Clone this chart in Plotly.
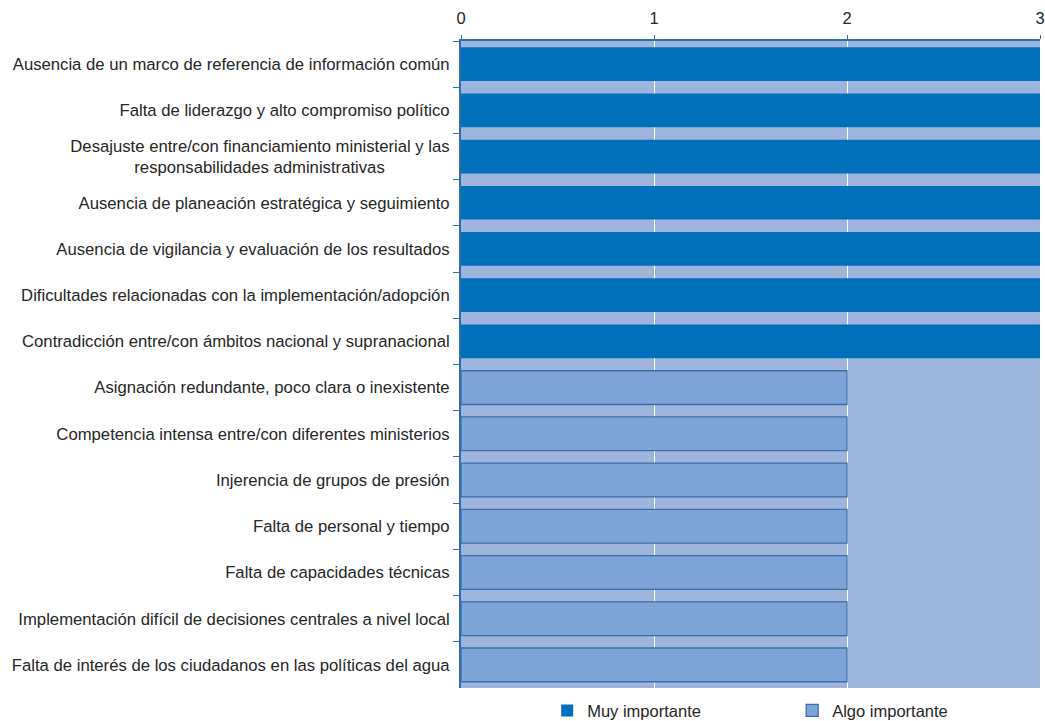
import plotly.graph_objs as go

# Categories (top to bottom)
categorias = [
    "Ausencia de un marco de referencia de información común",
    "Falta de liderazgo y alto compromiso político",
    "Desajuste entre/con financiamiento ministerial y las<br>responsabilidades administrativas              ",
    "Ausencia de planeación estratégica y seguimiento",
    "Ausencia de vigilancia y evaluación de los resultados",
    "Dificultades relacionadas con la implementación/adopción",
    "Contradicción entre/con ámbitos nacional y supranacional",
    "Asignación redundante, poco clara o inexistente",
    "Competencia intensa entre/con diferentes ministerios",
    "Injerencia de grupos de presión",
    "Falta de personal y tiempo",
    "Falta de capacidades técnicas",
    "Implementación difícil de decisiones centrales a nivel local",
    "Falta de interés de los ciudadanos en las políticas del agua",
]
muy_importante = [3, 3, 3, 3, 3, 3, 3, None, None, None, None, None, None, None]
algo_importante = [None, None, None, None, None, None, None, 2, 2, 2, 2, 2, 2, 2]

fig = go.Figure()

fig.add_trace(go.Bar(
    y=categorias, x=muy_importante, orientation="h",
    name="Muy importante",
    marker=dict(color="#0070BA", line=dict(width=0)),
))
fig.add_trace(go.Bar(
    y=categorias, x=algo_importante, orientation="h",
    name="Algo importante",
    marker=dict(color="#7EA4D7", line=dict(color="#3A6FA8", width=1.3)),
))

fig.update_layout(
    width=1045, height=721,
    barmode="overlay", bargap=0.27,
    paper_bgcolor="white", plot_bgcolor="#9DB5DD",
    margin=dict(l=461, r=5, t=41, b=33, autoexpand=False),
    font=dict(family="Liberation Sans, Arial, sans-serif", size=16.7, color="#262626"),
    showlegend=True,
    legend=dict(orientation="h", x=0.572, xanchor="center", y=-0.008, yanchor="top",
                entrywidth=200, font=dict(size=16.5), traceorder="normal",
                bgcolor="rgba(0,0,0,0)"),
)

fig.update_xaxes(
    side="top", range=[0, 3], tickvals=[0, 1, 2, 3],
    showgrid=True, gridcolor="white", gridwidth=1.2,
    showline=True, linecolor="#2F6CA8", linewidth=2,
    ticks="outside", ticklen=4, tickcolor="#2F6CA8",
    zeroline=False, tickfont=dict(size=16.5), automargin=False,
    ticklabelstandoff=4, ticklabeloverflow="allow",
)
fig.update_yaxes(
    autorange="reversed", tickson="boundaries",
    showgrid=False, showline=True, linecolor="#2F6CA8", linewidth=2,
    ticks="outside", ticklen=6, tickcolor="#2F6CA8",
    tickfont=dict(size=16.7), automargin=False, ticklabelstandoff=6,
)

# drop the default 8px body margin so the figure fills the window exactly
fig.write_html("out.html", config={"displayModeBar": False},
               post_script="document.body.style.margin='0';")
